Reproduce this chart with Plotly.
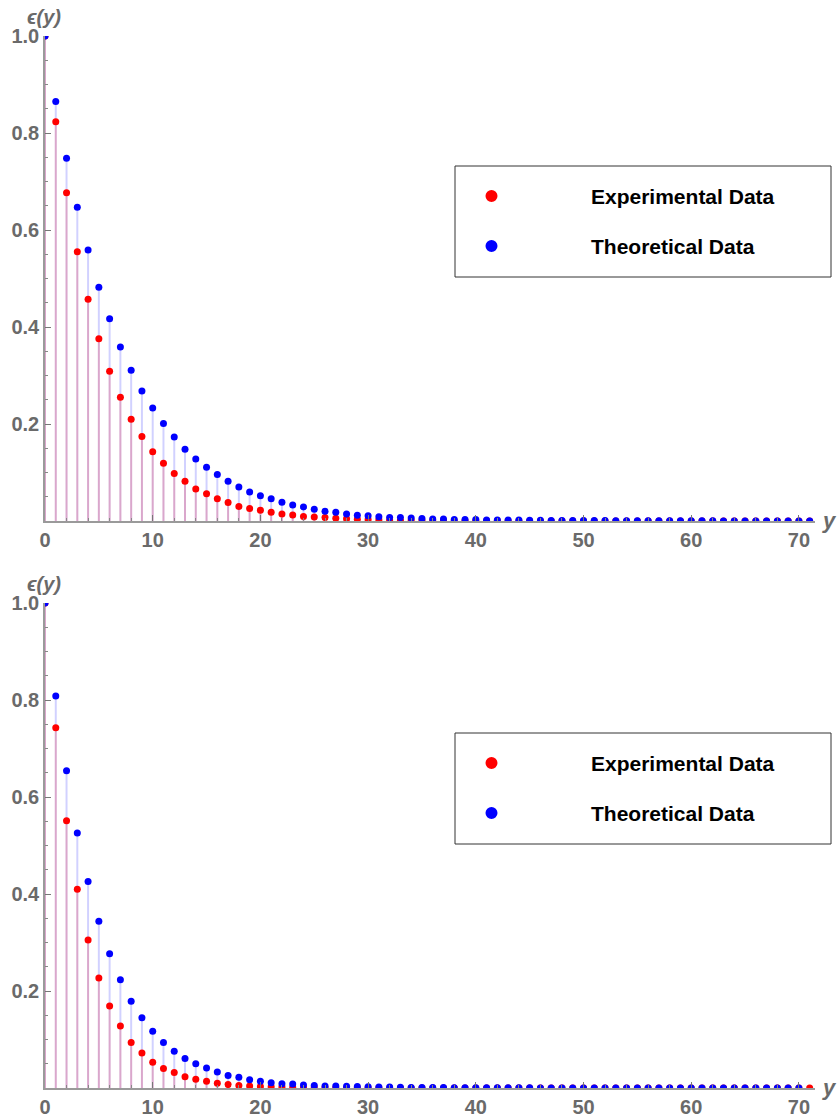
import plotly.graph_objects as go

W, H = 838, 1117

# ---------------- data ----------------
x_top = list(range(0, 72))
exp_top = [1.0, 0.823, 0.677, 0.555, 0.457, 0.376, 0.309, 0.255, 0.210, 0.174,
           0.143, 0.119, 0.098, 0.082, 0.066, 0.056, 0.046, 0.038, 0.030, 0.026,
           0.022, 0.018, 0.0145, 0.0124, 0.0095, 0.008, 0.007, 0.0055, 0.0045, 0.0038,
           0.003, 0.0025, 0.002, 0.0017, 0.0014, 0.0012, 0.001, 0.0008, 0.0007, 0.0006,
           0.0005, 0.0004, 0.0003, 0.0003, 0.0002, 0.0002, 0.0002, 0.0001, 0.0001, 0.0001,
           0.0001, 0.0001, 0.0, 0.0, 0.0, 0.0, 0.0, 0.0, 0.0, 0.0,
           0.0, 0.0, 0.0, 0.0, 0.0, 0.0, 0.0, 0.0, 0.0, 0.0,
           0.0, 0.0]
th_top = [1.0, 0.865, 0.748, 0.647, 0.559, 0.482, 0.417, 0.359, 0.311, 0.268,
          0.233, 0.201, 0.173, 0.148, 0.128, 0.111, 0.096, 0.082, 0.070, 0.060,
          0.052, 0.046, 0.0385, 0.033, 0.029, 0.024, 0.020, 0.018, 0.0144, 0.012,
          0.011, 0.009, 0.007, 0.007, 0.006, 0.005, 0.004, 0.004, 0.003, 0.003,
          0.003, 0.002, 0.002, 0.002, 0.002, 0.0015, 0.0015, 0.001, 0.001, 0.001,
          0.001, 0.0008, 0.0008, 0.0007, 0.0006, 0.0006, 0.0005, 0.0005, 0.0004, 0.0004,
          0.0003, 0.0003, 0.0003, 0.0002, 0.0002, 0.0002, 0.0002, 0.0001, 0.0001, 0.0001,
          0.0001, 0.0001]

x_bot_exp = list(range(0, 72))
x_bot_th = list(range(0, 71))
exp_bot = [1.0, 0.743, 0.551, 0.410, 0.305, 0.227, 0.169, 0.128, 0.094, 0.072,
           0.053, 0.040, 0.032, 0.023, 0.018, 0.014, 0.010, 0.007, 0.005, 0.004,
           0.003, 0.0025, 0.002, 0.0015, 0.0012, 0.001, 0.0008, 0.0006, 0.0005, 0.0004,
           0.0003, 0.0003, 0.0002, 0.0002, 0.0001, 0.0001, 0.0001, 0.0, 0.0, 0.0,
           0.0, 0.0, 0.0, 0.0, 0.0, 0.0, 0.0, 0.0, 0.0, 0.0,
           0.0, 0.0, 0.0, 0.0, 0.0, 0.0, 0.0, 0.0, 0.0, 0.0,
           0.0, 0.0, 0.0, 0.0, 0.0, 0.0, 0.0, 0.0, 0.0, 0.0,
           0.0, 0.0]
th_bot = [1.0, 0.808, 0.654, 0.526, 0.426, 0.344, 0.277, 0.223, 0.179, 0.145,
          0.117, 0.094, 0.076, 0.061, 0.050, 0.041, 0.033, 0.026, 0.022, 0.017,
          0.014, 0.011, 0.009, 0.008, 0.006, 0.005, 0.004, 0.004, 0.0035, 0.003,
          0.0025, 0.002, 0.002, 0.0015, 0.0012, 0.001, 0.001, 0.0008, 0.0007, 0.0006,
          0.0005, 0.0005, 0.0004, 0.0003, 0.0003, 0.0003, 0.0002, 0.0002, 0.0002, 0.0001,
          0.0001, 0.0001, 0.0001, 0.0001, 0.0, 0.0, 0.0, 0.0, 0.0, 0.0,
          0.0, 0.0, 0.0, 0.0, 0.0, 0.0, 0.0, 0.0, 0.0, 0.0,
          0.0]

series_names = ["Experimental Data", "Theoretical Data"]
y_tick_vals = [0.2, 0.4, 0.6, 0.8, 1.0]
y_tick_text = ["0.2", "0.4", "0.6", "0.8", "1.0"]
x_tick_vals = [0, 10, 20, 30, 40, 50, 60, 70]
x_tick_text = ["0", "10", "20", "30", "40", "50", "60", "70"]

# ---------------- helpers (screen pixel -> paper fraction) ----------------
def px(x):
    return x / W

def py(y):
    return 1 - y / H

def stems(xs, ys):
    sx, sy = [], []
    for a, b in zip(xs, ys):
        sx += [a, a, None]
        sy += [0, b, None]
    return sx, sy

RED = "#ff0000"
BLUE = "#0000ff"
TICKCOL = "#6a6a6a"
AXCOL = "#9a9a9a"

fig = go.Figure()

panels = [
    dict(xa="x", ya="y", xe=x_top, ye=exp_top, xt=x_top, yt=th_top, zero=521, one=36),
    dict(xa="x2", ya="y2", xe=x_bot_exp, ye=exp_bot, xt=x_bot_th, yt=th_bot, zero=1088, one=603),
]

for p in panels:
    bx, by = stems(p["xt"], p["yt"])
    fig.add_trace(go.Scatter(x=bx, y=by, mode="lines", xaxis=p["xa"], yaxis=p["ya"],
                             line=dict(color="rgba(0,0,255,0.18)", width=2),
                             hoverinfo="skip", showlegend=False))
    rx, ry = stems(p["xe"], p["ye"])
    fig.add_trace(go.Scatter(x=rx, y=ry, mode="lines", xaxis=p["xa"], yaxis=p["ya"],
                             line=dict(color="rgba(255,0,0,0.2)", width=2),
                             hoverinfo="skip", showlegend=False))
    fig.add_trace(go.Scatter(x=p["xe"], y=p["ye"], mode="markers", name=series_names[0],
                             xaxis=p["xa"], yaxis=p["ya"], cliponaxis=True,
                             marker=dict(color=RED, size=7, line=dict(width=0)),
                             showlegend=False))
    fig.add_trace(go.Scatter(x=p["xt"], y=p["yt"], mode="markers", name=series_names[1],
                             xaxis=p["xa"], yaxis=p["ya"], cliponaxis=True,
                             marker=dict(color=BLUE, size=7, line=dict(width=0)),
                             showlegend=False))

x_dom = [px(45), px(45 + 71.5 * 10.77)]

def xaxis_cfg(anchor):
    return dict(domain=x_dom, range=[0, 71.5], anchor=anchor, showgrid=False, zeroline=False,
                automargin=False,
                showline=True, linecolor=AXCOL, linewidth=1.5,
                ticks="inside", ticklen=6, tickwidth=1, tickcolor="#777777",
                tickvals=x_tick_vals, ticktext=x_tick_text,
                tickfont=dict(family="Liberation Sans", size=20, color=TICKCOL, weight="bold"),
                minor=dict(dtick=2, ticks="inside", ticklen=3, tickcolor="#888888", tickwidth=1),
                fixedrange=True)

def yaxis_cfg(anchor, zero, one):
    return dict(domain=[py(zero), py(one)], range=[0, 1.0], anchor=anchor, showgrid=False,
                zeroline=False, showline=True, linecolor=AXCOL, linewidth=1.5,
                automargin=False,
                ticks="inside", ticklen=6, tickwidth=1, tickcolor="#777777",
                tickvals=y_tick_vals, ticktext=y_tick_text,
                tickfont=dict(family="Liberation Sans", size=20, color=TICKCOL, weight="bold"),
                minor=dict(dtick=0.05, ticks="inside", ticklen=3, tickcolor="#888888", tickwidth=1),
                fixedrange=True)

shapes = []
annotations = []
for p in panels:
    off = p["one"] - 36
    # axis labels
    annotations.append(dict(xref="paper", yref="paper", x=px(44), y=py(17 + off),
                            text="<i>ϵ(y)</i>", showarrow=False, xanchor="center", yanchor="middle",
                            font=dict(family="Liberation Sans", size=20, color=TICKCOL, weight="bold")))
    annotations.append(dict(xref="paper", yref="paper", x=px(820), y=py(p["zero"] - 1),
                            text="<i>y</i>", showarrow=False, xanchor="left", yanchor="middle",
                            font=dict(family="Liberation Sans", size=22, color=TICKCOL, weight="bold")))
    # legend box
    shapes.append(dict(type="rect", xref="paper", yref="paper",
                       x0=px(455), x1=px(831), y0=py(166 + off), y1=py(277 + off),
                       line=dict(color="#333333", width=1), fillcolor="white", layer="above"))
    for name, col, yc in [(series_names[0], RED, 196), (series_names[1], BLUE, 246)]:
        shapes.append(dict(type="circle", xref="paper", yref="paper",
                           x0=px(491.5 - 6), x1=px(491.5 + 6),
                           y0=py(yc + off + 6), y1=py(yc + off - 6),
                           line=dict(width=0), fillcolor=col, layer="above"))
        annotations.append(dict(xref="paper", yref="paper", x=px(589), y=py(yc + off),
                                text=name, showarrow=False, xanchor="left", yanchor="middle",
                                font=dict(family="Liberation Sans", size=21, color="black",
                                          weight="bold")))

fig.update_layout(
    width=W, height=H,
    margin=dict(l=0, r=0, t=0, b=0, autoexpand=False),
    paper_bgcolor="white", plot_bgcolor="white",
    showlegend=False,
    xaxis=xaxis_cfg("y"),
    yaxis=yaxis_cfg("x", 521, 36),
    xaxis2=xaxis_cfg("y2"),
    yaxis2=yaxis_cfg("x2", 1088, 603),
    shapes=shapes,
    annotations=annotations,
)

fig.write_html("out.html",
               config={"displayModeBar": False},
               post_script="document.body.style.margin='0px';document.body.style.overflow='hidden';")
